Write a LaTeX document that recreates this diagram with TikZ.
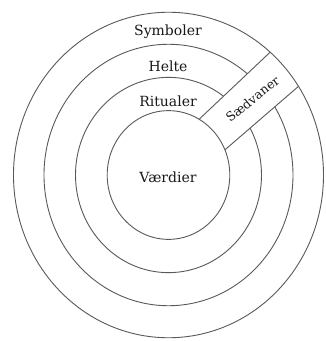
\documentclass[tikz,border=0pt]{standalone}
\usepackage{fontspec}
\setmainfont{DejaVu Serif}
\begin{document}
\begin{tikzpicture}[x=1pt,y=1pt,
  ring/.style={draw=black!65, line width=0.9pt},
  lbl/.style={font=\fontsize{14}{16}\selectfont, text=black!90, inner sep=0pt}]
\useasboundingbox (-168.5,-166) rectangle (157.5,175);
\fill[white] (-168.5,-166) rectangle (157.5,175);
\begin{scope}[yscale=1.05]
  % rings
  \draw[ring] (0,0) circle (124.5);
  \draw[ring] (0,0) circle (93);
  % band (covers ring arcs)
  \coordinate (p1) at (60:61.3);
  \coordinate (q1) at (49:155);
  \coordinate (p2) at (23:61.3);
  \coordinate (q2) at (33:155);
  \fill[white] (p1) -- (q1) -- (q2) -- (p2) -- cycle;
  \draw[ring] (0,0) circle (155);
  \draw[ring] (0,0) circle (61.3);
  \draw[ring] (p1) -- (q1);
  \draw[ring] (p2) -- (q2);
\end{scope}
\node[lbl] (symboler) at (-0.5,143) {Symboler};
\node[lbl] (helte) at (-0.5,109) {Helte};
\node[lbl] (ritualer) at (-0.5,74) {Ritualer};
\node[lbl] (vaerdier) at (-0.5,-2) {Værdier};
\node[lbl, font=\fontsize{12.5}{14}\selectfont, rotate=39] (saedvaner) at (84,76) {Sædvaner};
\end{tikzpicture}
\end{document}
